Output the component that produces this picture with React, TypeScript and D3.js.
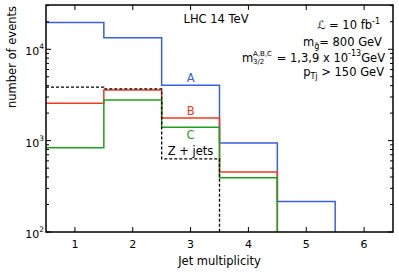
import React from "react";
import * as d3 from "d3";

// jet multiplicity bins 1..n, number of events per bin
const binsA = [19600, 13400, 4040, 940, 216];
const binsB = [2570, 3590, 1774, 453];
const binsC = [834, 2790, 1403, 392];
const binsZ = [3850, 3690, 632];
const xTicks = [1, 2, 3, 4, 5, 6];
const yDecades = [100, 1000, 10000];

const W = 399, H = 279;
const margin = { top: 5, right: 6, bottom: 47, left: 46 };
const FONT = "'DejaVu Sans', sans-serif";
const FS = 11.5;

const series = [
  { name: "A", values: binsA, color: "#3a5fdc", dash: null, labelDy: -3 },
  { name: "B", values: binsB, color: "#f03a1e", dash: null, labelDy: -3 },
  { name: "C", values: binsC, color: "#1fa01f", dash: null, labelDy: 12 },
  { name: "Z + jets", values: binsZ, color: "#000", dash: "3,2", labelDy: -4 },
];

export default function App() {
  const x = d3.scaleLinear().domain([0.5, 6.5]).range([margin.left, W - margin.right]);
  const y = d3.scaleLog().domain([100, 30500]).range([H - margin.bottom, margin.top]).clamp(true);
  const [x0, x1] = x.range();
  const [y0, y1] = y.range();

  const line = d3
    .line<[number, number]>()
    .x((d) => x(d[0]))
    .y((d) => y(d[1]))
    .curve(d3.curveStepAfter);

  const pathFor = (vals: number[]) => {
    const pts: [number, number][] = vals.map((v, i) => [i + 0.5, v]);
    pts.push([vals.length + 0.5, 100]);
    return line(pts) || "";
  };

  // minor ticks 2..9 per decade within domain
  const minor: number[] = [];
  for (const d of yDecades) for (let k = 2; k <= 9; k++) if (d * k <= 30500) minor.push(d * k);

  return (
    <svg width={W} height={H} style={{ position: "absolute", left: 0, top: 0, fontFamily: FONT }}>
      <rect width={W} height={H} fill="#fff" />
      <defs>
        <clipPath id="plot">
          <rect x={x0} y={y1} width={x1 - x0} height={y0 - y1} />
        </clipPath>
      </defs>

      <g clipPath="url(#plot)">
        {series.map((s) => (
          <path key={s.name} d={pathFor(s.values)} fill="none" stroke={s.color}
            strokeWidth={s.dash ? 1.3 : 1.5} strokeDasharray={s.dash || undefined} />
        ))}
      </g>

      {series.map((s) => (
        <text key={s.name} x={x(3)} y={y(s.values[2]) + s.labelDy} textAnchor="middle"
          fontSize={FS} fill={s.color}>{s.name}</text>
      ))}

      {/* frame */}
      <rect x={x0} y={y1} width={x1 - x0} height={y0 - y1} fill="none" stroke="#000" strokeWidth={1.5} />

      {/* x ticks, bottom and top, inward */}
      {xTicks.map((t) => (
        <g key={t}>
          <line x1={x(t)} x2={x(t)} y1={y0} y2={y0 - 5} stroke="#000" />
          <line x1={x(t)} x2={x(t)} y1={y1} y2={y1 + 5} stroke="#000" />
          <text x={x(t)} y={y0 + 16} textAnchor="middle" fontSize={11}>{t}</text>
        </g>
      ))}

      {/* y ticks, left and right */}
      {yDecades.map((d) => (
        <g key={d}>
          <line x1={x0} x2={x0 + 5} y1={y(d)} y2={y(d)} stroke="#000" />
          <line x1={x1} x2={x1 - 5} y1={y(d)} y2={y(d)} stroke="#000" />
          <text x={44} y={y(d) + 6} textAnchor="end" fontSize={11}>
            10<tspan fontSize={7.5} dy={-6}>{Math.log10(d)}</tspan>
          </text>
        </g>
      ))}
      {minor.map((m) => (
        <g key={m}>
          <line x1={x0} x2={x0 + 3} y1={y(m)} y2={y(m)} stroke="#000" />
          <line x1={x1} x2={x1 - 3} y1={y(m)} y2={y(m)} stroke="#000" />
        </g>
      ))}

      <text x={x(3.5)} y={y0 + 33} textAnchor="middle" fontSize={FS}>Jet multiplicity</text>
      <text transform="translate(16,57) rotate(-90)" textAnchor="middle" fontSize={FS}>number of events</text>

      {/* annotations */}
      <text x={216} y={23} textAnchor="middle" fontSize={FS}>LHC 14 TeV</text>
      <g fontSize={FS} textAnchor="end">
        <text x={380} y={29}>
          ℒ = 10 fb<tspan fontSize={8} dy={-5}>-1</tspan>
        </text>
        <text x={382} y={46}>
          m<tspan fontSize={8} dy={3}>g̃</tspan><tspan dy={-3}>= 800 GeV</tspan>
        </text>
        <text x={385} y={62}>
          = 1,3,9 x 10<tspan fontSize={8} dy={-6}>-13</tspan><tspan dy={6}>GeV</tspan>
        </text>
        <text x={384} y={76}>
          p<tspan fontSize={8} dy={3}>Tj</tspan><tspan dy={-3}> &gt; 150 GeV</tspan>
        </text>
      </g>
      <text fontSize={FS} x={242} y={62}>m</text>
      <text fontSize={7} x={253} y={56}>A,B,C</text>
      <text fontSize={7} x={253} y={64}>3/2</text>
    </svg>
  );
}
